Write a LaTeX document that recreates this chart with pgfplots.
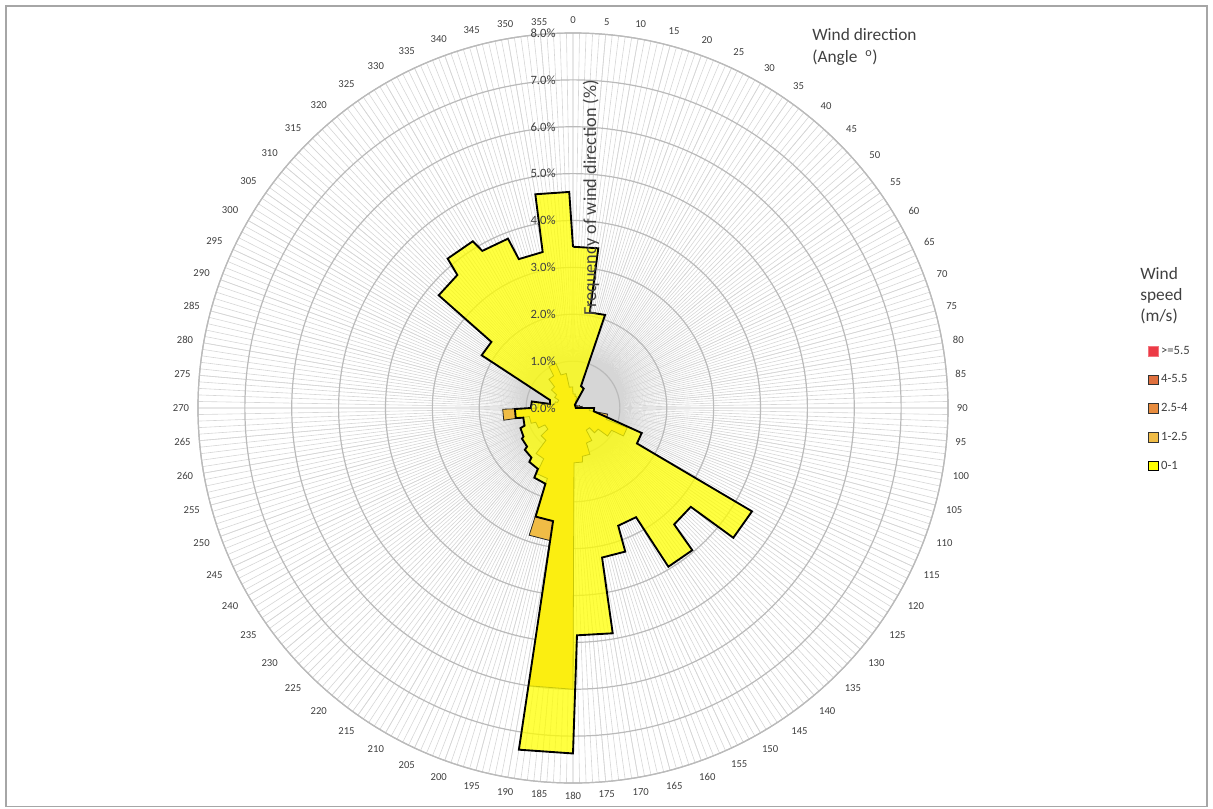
\documentclass[border=0pt]{standalone}
\usepackage{fontspec}
\setmainfont{Carlito}
\usepackage{pgfplots}
\usepackage{pgfplotstable}
\pgfplotsset{compat=1.18}
\usepgfplotslibrary{polar}

\definecolor{sp0}{RGB}{255,255,0}
\definecolor{sp1}{RGB}{240,188,70}
\definecolor{sp2}{RGB}{232,140,62}
\definecolor{sp3}{RGB}{224,112,62}
\definecolor{sp4}{RGB}{236,58,70}
\definecolor{txt}{RGB}{64,64,64}

% wind rose outlines: compass angle (deg, clockwise from north), frequency (%)
\pgfplotstableread{
a r
0 3.44
9 3.45
10 2.07
19 2.10
20 0.50
29 0.47
30 0.08
89 0.06
90 0.45
99 0.45
110 1.56
119 1.56
120 4.41
129 4.40
130 3.28
139 3.29
140 3.96
149 3.95
150 2.69
159 2.69
160 3.26
169 3.25
170 4.88
179 4.85
180 7.37
189 7.38
190 2.45
199 2.45
200 1.72
209 1.70
210 1.50
219 1.48
220 1.38
229 1.36
230 1.28
239 1.27
240 1.22
249 1.20
250 1.10
259 1.08
260 1.24
269 1.24
270 0.90
279 0.89
280 0.50
289 0.52
300 2.25
309 2.24
310 3.74
319 3.76
320 4.16
329 4.15
330 3.87
339 3.87
340 3.38
349 3.39
350 4.63
359 4.61
360 3.44
}\speedA

\pgfplotstableread{
a r
0 0.30
9 0.30
10 0.25
19 0.25
20 0.15
29 0.15
30 0.10
39 0.10
40 0.08
59 0.08
60 0.10
69 0.10
70 0.15
79 0.15
80 0.20
89 0.20
90 0.35
99 0.35
100 0.75
109 0.75
110 1.23
119 1.23
120 0.95
129 0.95
130 0.70
139 0.70
140 0.55
149 0.55
150 0.80
159 0.80
160 1.05
169 1.05
170 1.17
179 1.17
180 6.00
189 6.00
190 2.87
199 2.87
200 1.60
209 1.60
210 1.25
219 1.25
220 0.90
229 0.90
230 0.70
239 0.70
240 0.85
249 0.85
250 0.95
259 0.95
260 1.50
269 1.50
270 0.75
279 0.75
280 0.40
289 0.40
290 0.35
299 0.35
300 0.45
309 0.45
310 0.60
319 0.60
320 0.80
329 0.80
330 1.02
339 1.02
340 0.75
349 0.75
350 0.45
359 0.45
360 0.30
}\speedB

\begin{document}
\begin{tikzpicture}[x=0.75pt,y=0.75pt]
\useasboundingbox (0,0) rectangle (1213,808);
\draw[black!35, line width=1.1pt] (6,1.5) rectangle (1207,802);

\begin{polaraxis}[
    at={(429.75pt,300pt)}, anchor=center,
    scale only axis, width=562.5pt, height=562.5pt,
    clip=false,
    ymin=0, ymax=8,
    ytick={1,2,...,8}, yticklabels={},
    xtick={0,5,...,355},
    xticklabels={90,85,80,75,70,65,60,55,50,45,40,35,30,25,20,15,10,5,0,355,350,345,340,335,330,325,320,315,310,305,300,295,290,285,280,275,270,265,260,255,250,245,240,235,230,225,220,215,210,205,200,195,190,185,180,175,170,165,160,155,150,145,140,135,130,125,120,115,110,105,100,95},
    minor xtick={0,1,...,359},
    xmajorgrids, xminorgrids, ymajorgrids,
    every axis x grid/.style={draw=black!16, line width=0.45pt},
    every axis y grid/.style={draw=black!27, line width=0.9pt},
    axis line style={draw=black!27, line width=0.9pt},
    y axis line style={draw=none},
    tick style={draw=none},
    minor tick style={draw=none},
    xticklabel style={font=\fontsize{8}{9}\selectfont, text=txt, inner sep=6.5pt},
    legend style={at={(axis description cs:1.261,0.590)}, anchor=north west,
        draw=none, fill=none, font=\fontsize{9.5}{11}\selectfont, text=txt,
        row sep=9.9pt, cells={anchor=west, inner xsep=2pt}},
    legend image code/.code={\draw[#1] (0pt,-3.6pt) rectangle (7.2pt,3.6pt);},
]
\addplot[forget plot, fill=sp1, draw=black!85, line width=0.6pt]
    table[x expr={90-\thisrow{a}}, y=r] {\speedB};
\addplot[forget plot, fill=sp0, fill opacity=0.75, draw=black, line width=1.4pt]
    table[x expr={90-\thisrow{a}}, y=r] {\speedA};

\addlegendimage{fill=sp4, draw=sp4!70!white, line width=0.6pt}
\addlegendentry{>=5.5}
\addlegendimage{fill=sp3, draw=black!80, line width=0.6pt}
\addlegendentry{4-5.5}
\addlegendimage{fill=sp2, draw=black!80, line width=0.6pt}
\addlegendentry{2.5-4}
\addlegendimage{fill=sp1, draw=black!80, line width=0.6pt}
\addlegendentry{1-2.5}
\addlegendimage{fill=sp0, draw=black, line width=0.6pt}
\addlegendentry{0-1}

\node[anchor=east, xshift=-9.5pt, font=\fontsize{9.5}{11}\selectfont, text=txt] at (axis cs:90,0) {0.0\%};
\node[anchor=east, xshift=-9.5pt, font=\fontsize{9.5}{11}\selectfont, text=txt] at (axis cs:90,1) {1.0\%};
\node[anchor=east, xshift=-9.5pt, font=\fontsize{9.5}{11}\selectfont, text=txt] at (axis cs:90,2) {2.0\%};
\node[anchor=east, xshift=-9.5pt, font=\fontsize{9.5}{11}\selectfont, text=txt] at (axis cs:90,3) {3.0\%};
\node[anchor=east, xshift=-9.5pt, font=\fontsize{9.5}{11}\selectfont, text=txt] at (axis cs:90,4) {4.0\%};
\node[anchor=east, xshift=-9.5pt, font=\fontsize{9.5}{11}\selectfont, text=txt] at (axis cs:90,5) {5.0\%};
\node[anchor=east, xshift=-9.5pt, font=\fontsize{9.5}{11}\selectfont, text=txt] at (axis cs:90,6) {6.0\%};
\node[anchor=east, xshift=-9.5pt, font=\fontsize{9.5}{11}\selectfont, text=txt] at (axis cs:90,7) {7.0\%};
\node[anchor=east, xshift=-9.5pt, font=\fontsize{9.5}{11}\selectfont, text=txt] at (axis cs:90,8) {8.0\%};
\end{polaraxis}

\node[rotate=90, font=\fontsize{13.7}{15}\selectfont, text=txt] at (591,610) {Frequency of wind direction (\%)};
\node[anchor=north west, align=left, inner sep=0pt, font=\fontsize{13}{16.5}\selectfont, text=txt] at (812,780)
    {Wind direction\\(Angle\ \ \textsuperscript{o})};
\node[anchor=north west, align=left, inner sep=0pt, font=\fontsize{13}{15.8}\selectfont, text=txt] at (1140,541)
    {Wind\\speed\\(m/s)};
\end{tikzpicture}
\end{document}
